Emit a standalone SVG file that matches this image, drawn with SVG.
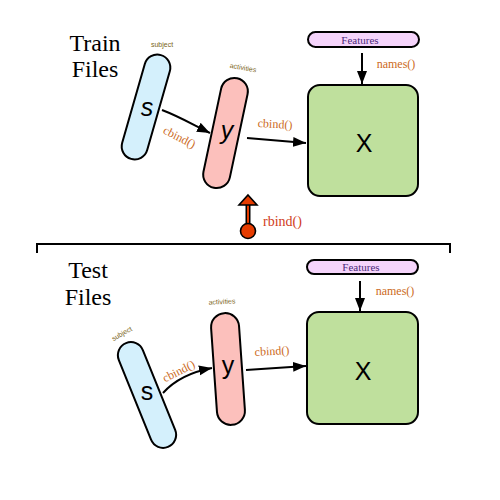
<svg xmlns="http://www.w3.org/2000/svg" width="500" height="500" viewBox="0 0 500 500">
<style>
.small{font-family:"Liberation Sans",Arial,sans-serif;font-size:7px;fill:#7a6420;text-anchor:middle}
.op{font-family:"Liberation Serif","Times New Roman",serif;font-size:12px;fill:#cc6a22;text-anchor:middle}
.big{font-family:"Liberation Sans",Arial,sans-serif;font-size:25px;fill:#000;text-anchor:middle}
.ttl{font-family:"Liberation Serif","Times New Roman",serif;font-size:24px;fill:#000;text-anchor:middle}
.ft{font-family:"Liberation Serif","Times New Roman",serif;font-size:11px;fill:#4a2a7a;text-anchor:middle}
.box{stroke:#000;stroke-width:2}
.s{fill:#d4f0fc}
.y{fill:#fcc0bc}
.x{fill:#bfe09d}
.f{fill:#f5d4fb}
.conn{fill:none;stroke:#000;stroke-width:2}
</style>
<defs>
<marker id="ah" markerWidth="14" markerHeight="12" refX="13" refY="6" orient="auto" markerUnits="userSpaceOnUse">
<path d="M0,1 L13,6 L0,11 Z" fill="#000"/>
</marker>
</defs>

<text class="ttl" x="95" y="51">Train</text>
<text class="ttl" x="95" y="77">Files</text>
<text class="ttl" x="88" y="278">Test</text>
<text class="ttl" x="88" y="305">Files</text>

<g id="train-s">
<rect class="box s" x="133" y="53" width="26" height="108" rx="13" transform="rotate(16 146 107)"/>
<text class="big" x="147" y="116" font-style="italic">s</text>
<text class="small" x="162" y="47">subject</text>
</g>
<g id="train-y">
<rect class="box y" x="212" y="77" width="27" height="112" rx="13.5" transform="rotate(12 225.5 133)"/>
<text class="big" x="227" y="139" font-style="italic">y</text>
<text class="small" x="243" y="70" transform="rotate(10 243 68)">activities</text>
</g>
<g id="train-X">
<rect class="box x" x="308" y="85" width="110" height="111" rx="12"/>
<text class="big" x="364" y="152" font-size="28">X</text>
</g>
<g id="train-features">
<rect class="box f" x="308" y="32" width="111" height="15" rx="7.5" stroke-width="1.6"/>
<text class="ft" x="360" y="43.5">Features</text>
</g>

<g id="test-s">
<rect class="box s" x="134" y="339" width="26" height="112" rx="13" transform="rotate(-22 147 395)"/>
<text class="big" x="147" y="400">s</text>
<text class="small" x="122" y="336" transform="rotate(-30 122 334)">subject</text>
</g>
<g id="test-y">
<rect class="box y" x="214" y="313" width="28" height="112" rx="14" transform="rotate(-4 228 369)"/>
<text class="big" x="228" y="374">y</text>
<text class="small" x="222" y="304" transform="rotate(-3 222 302)">activities</text>
</g>
<g id="test-X">
<rect class="box x" x="307" y="312" width="111" height="112" rx="12"/>
<text class="big" x="363" y="380" font-size="28">X</text>
</g>
<g id="test-features">
<rect class="box f" x="307" y="260" width="111" height="14" rx="7" stroke-width="1.6"/>
<text class="ft" x="361" y="271">Features</text>
</g>

<g id="connectors">
<path class="conn" d="M162,110 C178,116 190,123 210,133" marker-end="url(#ah)"/>
<path class="conn" d="M247,138 L306,143" marker-end="url(#ah)"/>
<path class="conn" d="M362,53 L362,84" marker-end="url(#ah)"/>
<path class="conn" d="M163,393 Q180,374 212,368" marker-end="url(#ah)"/>
<path class="conn" d="M246,370 L306,366" marker-end="url(#ah)"/>
<path class="conn" d="M360,281 L360,311" marker-end="url(#ah)"/>
<text class="op" x="179" y="141" transform="rotate(27 179 138)">cbind()</text>
<text class="op" x="275" y="128" transform="rotate(3 275 125)">cbind()</text>
<text class="op" x="396" y="68">names()</text>
<text class="op" x="179" y="375" transform="rotate(-27 179 372)">cbind()</text>
<text class="op" x="272" y="355" transform="rotate(-3 272 352)">cbind()</text>
<text class="op" x="395" y="295">names()</text>
</g>

<g id="rbind">
<line x1="248" y1="204" x2="248" y2="228" stroke="#000" stroke-width="5"/>
<line x1="248" y1="204" x2="248" y2="228" stroke="#e63c00" stroke-width="2"/>
<path d="M248,195 L257,205 L239,205 Z" fill="#e63c00" stroke="#000" stroke-width="1.6"/>
<circle cx="248" cy="231" r="7.5" fill="#e63c00" stroke="#000" stroke-width="1.6"/>
<text class="op" x="263" y="226" font-size="14" fill="#d03c1c" text-anchor="start" style="fill:#d03c1c;font-size:14px;text-anchor:start">rbind()</text>
</g>

<path d="M37,253 L37,244 L450,244 L450,253" fill="none" stroke="#000" stroke-width="2"/>
</svg>
